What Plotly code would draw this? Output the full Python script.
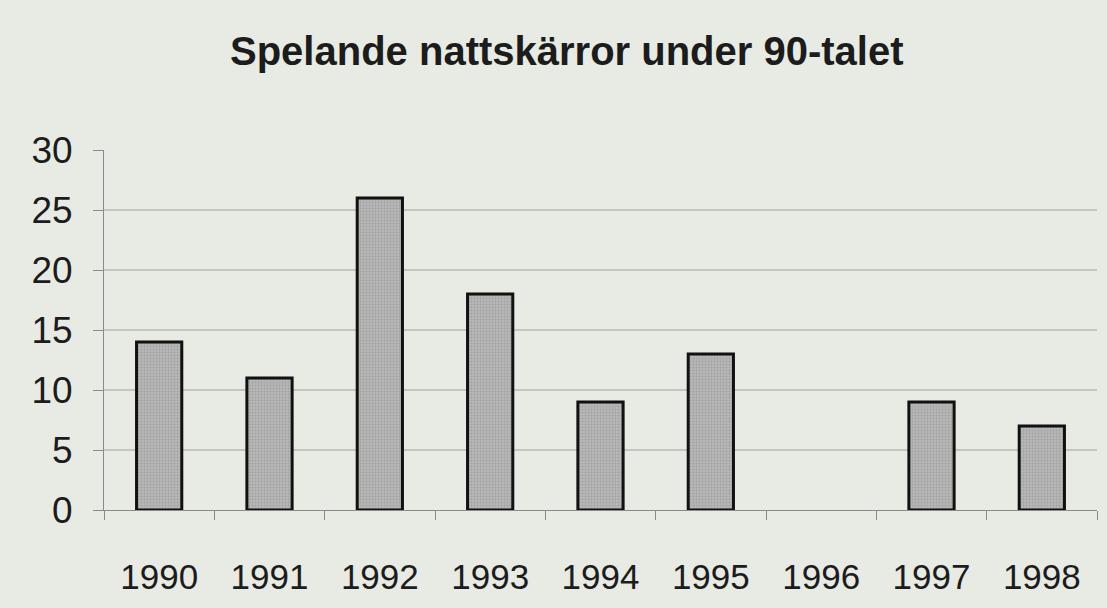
import plotly.graph_objects as go

years = ["1990", "1991", "1992", "1993", "1994", "1995", "1996", "1997", "1998"]
counts = [14, 11, 26, 18, 9, 13, None, 9, 7]
y_ticks = [0, 5, 10, 15, 20, 25, 30]
grid_vals = [5, 10, 15, 20, 25]

title_text = "Spelande nattskärror under 90-talet"
paper = "#e8ebe4"
ink = "#1c1c1c"

fig = go.Figure()
fig.add_trace(go.Bar(
    x=years, y=counts,
    marker=dict(color="#a9a9a9", line=dict(color="#111111", width=3),
                pattern=dict(shape=".", fgcolor="#8c8c8c", bgcolor="#b8b8b8", size=3, solidity=0.4)),
    width=0.41,
))

for g in grid_vals:
    fig.add_shape(type="line", xref="paper", yref="y", x0=0, x1=1, y0=g, y1=g,
                  line=dict(color="#9c9f9c", width=1), layer="below")

fig.update_layout(
    width=1107, height=608,
    margin=dict(l=104, r=10, t=150, b=98),
    paper_bgcolor=paper, plot_bgcolor=paper,
    showlegend=False,
    title=dict(text=title_text, x=0.512, xanchor="center", y=0.916, yanchor="middle",
               font=dict(family="Liberation Sans, Arial", size=40, color=ink, weight="bold")),
    font=dict(family="Liberation Sans, Arial", color=ink),
)
fig.update_xaxes(
    type="category", showgrid=False, showline=True, linecolor="#8a8a8a", linewidth=1,
    ticks="outside", tickson="boundaries", ticklen=9, tickcolor="#8a8a8a",
    tickfont=dict(size=35), ticklabelstandoff=36,
)
fig.update_yaxes(
    range=[0, 30], tickvals=y_ticks, showgrid=False, zeroline=False,
    showline=True, linecolor="#8a8a8a", linewidth=1,
    ticks="outside", ticklen=10, tickcolor="#8a8a8a",
    tickfont=dict(size=37), ticklabelstandoff=13,
)

fig.write_html("out.html", config={"displayModeBar": False},
               post_script="document.body.style.margin='0';document.body.style.background='%s';" % paper)
